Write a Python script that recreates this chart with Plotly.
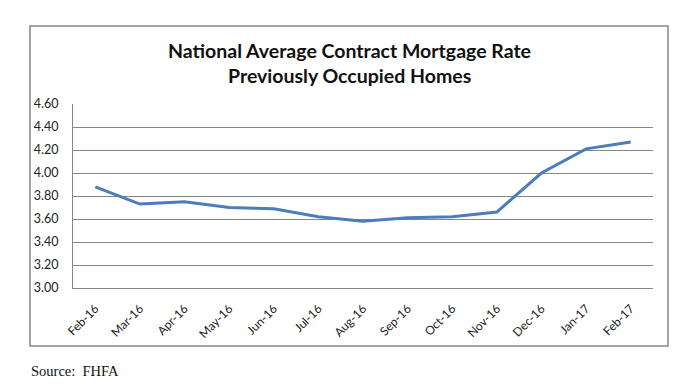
import plotly.graph_objects as go

months = ["Feb-16", "Mar-16", "Apr-16", "May-16", "Jun-16", "Jul-16", "Aug-16",
          "Sep-16", "Oct-16", "Nov-16", "Dec-16", "Jan-17", "Feb-17"]
rates = [3.88, 3.73, 3.75, 3.70, 3.69, 3.62, 3.58, 3.61, 3.62, 3.66, 4.00, 4.21, 4.27]
y_ticks = [3.00, 3.20, 3.40, 3.60, 3.80, 4.00, 4.20, 4.40, 4.60]
title_lines = ["National Average Contract Mortgage Rate", "Previously Occupied Homes"]
source_text = "Source:  FHFA"

W, H = 694, 384
L, R, T, B = 73, 653, 104, 288

def px_x(x):
    return (x - L) / (R - L)

def px_y(y):
    return (B - y) / (B - T)

fig = go.Figure()
fig.add_trace(go.Scatter(
    x=months, y=rates, mode="lines",
    line=dict(color="#4A7EBB", width=3),
    hoverinfo="x+y",
))

fig.update_layout(
    width=W, height=H,
    margin=dict(l=L, r=W - R, t=T, b=H - B, pad=0),
    paper_bgcolor="white", plot_bgcolor="white",
    showlegend=False,
    font=dict(family="Lato, sans-serif", color="#222222"),
)
fig.update_xaxes(
    type="category", range=[-0.5, len(months) - 0.5],
    tickangle=-45, tickfont=dict(size=12, family="Lato, sans-serif", color="#222222"),
    showgrid=False, showline=True, linecolor="#868686", linewidth=1,
    ticks="", ticklen=0, ticklabelstandoff=8,
)
fig.update_yaxes(
    range=[3.0, 4.6], tickvals=y_ticks, ticktext=[f"{v:.2f}" for v in y_ticks],
    tickfont=dict(size=12.5, family="Lato, sans-serif", color="#222222"),
    showgrid=True, gridcolor="#868686", gridwidth=1,
    showline=True, linecolor="#868686", linewidth=1,
    zeroline=False, ticks="", ticklabelstandoff=11,
)

# outer chart border
fig.add_shape(type="rect", xref="paper", yref="paper",
              x0=px_x(30), x1=px_x(668), y0=px_y(346), y1=px_y(26),
              line=dict(color="#868686", width=1.5), fillcolor="rgba(0,0,0,0)", layer="below")

fig.add_annotation(text=f"<b>{title_lines[0]}</b>", xref="paper", yref="paper",
                   x=px_x(349), y=px_y(50), showarrow=False,
                   font=dict(size=19.5, family="Lato, sans-serif", color="#111111"),
                   xanchor="center", yanchor="middle")
fig.add_annotation(text=f"<b>{title_lines[1]}</b>", xref="paper", yref="paper",
                   x=px_x(349), y=px_y(75), showarrow=False,
                   font=dict(size=19.5, family="Lato, sans-serif", color="#111111"),
                   xanchor="center", yanchor="middle")
fig.add_annotation(text=source_text, xref="paper", yref="paper",
                   x=px_x(29), y=px_y(371), showarrow=False,
                   font=dict(size=14.5, family="Liberation Serif, serif", color="#111111"),
                   xanchor="left", yanchor="middle")

fig.write_html("out.html", config={"displayModeBar": False},
               post_script="document.body.style.margin='0';document.body.style.padding='0';")
